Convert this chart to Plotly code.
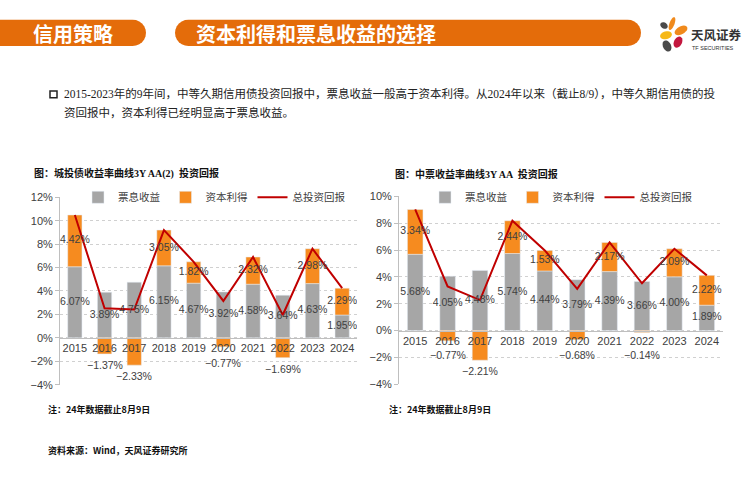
import math
import plotly.graph_objects as go

# ---------------- data ----------------
years = ["2015", "2016", "2017", "2018", "2019", "2020", "2021", "2022", "2023", "2024"]
left_coupon = [6.07, 3.89, 4.75, 6.15, 4.67, 3.92, 4.58, 3.64, 4.63, 1.95]
left_capital = [4.42, -1.37, -2.33, 3.05, 1.82, -0.77, 2.32, -1.69, 2.98, 2.29]
right_coupon = [5.68, 4.05, 4.48, 5.74, 4.44, 3.79, 4.39, 3.66, 4.00, 1.89]
right_capital = [3.34, -0.77, -2.21, 2.44, 1.53, -0.68, 2.17, -0.14, 2.09, 2.22]
left_yticks = [-4, -2, 0, 2, 4, 6, 8, 10, 12]
right_yticks = [-4, -2, 0, 2, 4, 6, 8, 10]
series_names = ["票息收益", "资本利得", "总投资回报"]

W, H = 751, 500
def px(x):
    return x / W
def py(y):
    return 1 - y / H

GRAY = "#A6A6A6"
ORANGE = "#F68B1F"
RED = "#C00000"
TXT = "#404040"
HDR = "#E46C0A"
NUMFONT = "Liberation Sans, Arial, sans-serif"
CJK = "Noto Sans CJK SC, sans-serif"

def fmt(v):
    s = f"{abs(v):.2f}%"
    return ("\u2212" + s) if v < 0 else s

def tick_text(v):
    return ("\u2212" if v < 0 else "") + f"{abs(v)}%"

fig = go.Figure()
ann = []

def add_panel(coupon, capital, xa, ya, legend, px_per_unit):
    total = [round(a + b, 2) for a, b in zip(coupon, capital)]
    fig.add_trace(go.Bar(x=years, y=coupon, name=series_names[0], marker_color=GRAY,
                         width=0.48, xaxis=xa, yaxis=ya, legend=legend, hoverinfo="skip"))
    fig.add_trace(go.Bar(x=years, y=capital, name=series_names[1], marker_color=ORANGE,
                         width=0.48, xaxis=xa, yaxis=ya, legend=legend, hoverinfo="skip"))
    fig.add_trace(go.Scatter(x=years, y=total, name=series_names[2], mode="lines",
                             line=dict(color=RED, width=2), xaxis=xa, yaxis=ya,
                             legend=legend, hoverinfo="skip"))
    lf = dict(size=10.5, color=TXT, family=NUMFONT)
    fig.add_trace(go.Scatter(x=years, y=[c / 2 for c in coupon], text=[fmt(c) for c in coupon],
                             mode="text", textposition="middle center", textfont=lf,
                             xaxis=xa, yaxis=ya, showlegend=False, hoverinfo="skip"))
    pos_x = [y for y, k in zip(years, capital) if k >= 0]
    pos_y = [c + k / 2 for c, k in zip(coupon, capital) if k >= 0]
    pos_t = [fmt(k) for k in capital if k >= 0]
    fig.add_trace(go.Scatter(x=pos_x, y=pos_y, text=pos_t, mode="text", textposition="middle center",
                             textfont=lf, xaxis=xa, yaxis=ya, showlegend=False, hoverinfo="skip"))
    # negative capital labels: below the bar end, never closer than ~25px to the zero line
    for i, k in enumerate(capital):
        if k < 0:
            bar_px = -k * px_per_unit
            shift = max(11, 25 - bar_px)
            ann.append(dict(x=i, y=k, xref=xa, yref=ya, text=fmt(k), showarrow=False,
                            yanchor="middle", xanchor="center", yshift=-shift, font=lf))

ldom_px = (388, 196)
rdom_px = (387.5, 195)
lrange = [left_yticks[0], left_yticks[-1]]
rrange = [right_yticks[0], right_yticks[-1]]
add_panel(left_coupon, left_capital, "x", "y", "legend",
          (ldom_px[0] - ldom_px[1]) / (lrange[1] - lrange[0]))
add_panel(right_coupon, right_capital, "x2", "y2", "legend2",
          (rdom_px[0] - rdom_px[1]) / (rrange[1] - rrange[0]))

def zero_pos(dom, rng):
    return dom[0] + (0 - rng[0]) / (rng[1] - rng[0]) * (dom[1] - dom[0])

ldom_y = [py(ldom_px[0]), py(ldom_px[1])]
rdom_y = [py(rdom_px[0]), py(rdom_px[1])]

xcommon = dict(type="category", range=[-0.5, 9.5], showline=True, linecolor="#BFBFBF",
               linewidth=1, ticks="", showgrid=False, anchor="free", tickangle=0,
               tickfont=dict(size=11, color=TXT, family=NUMFONT), fixedrange=True)
ycommon = dict(showline=True, linecolor="#BFBFBF", linewidth=1, ticks="outside", ticklen=4,
               tickcolor="#BFBFBF", showgrid=True, gridcolor="#D0D0D0",
               griddash="dot", zeroline=False, tickmode="array",
               tickfont=dict(size=11, color=TXT, family=NUMFONT), fixedrange=True)

fig.update_layout(
    width=W, height=H, margin=dict(l=0, r=0, t=0, b=0),
    paper_bgcolor="white", plot_bgcolor="white",
    barmode="relative", bargap=0.5,
    xaxis=dict(xcommon, domain=[px(60), px(357)], position=zero_pos(ldom_y, lrange)),
    yaxis=dict(ycommon, domain=ldom_y, range=lrange, tickvals=left_yticks,
               ticktext=[tick_text(v) for v in left_yticks], anchor="x"),
    xaxis2=dict(xcommon, domain=[px(399), px(723)], position=zero_pos(rdom_y, rrange)),
    yaxis2=dict(ycommon, domain=rdom_y, range=rrange, tickvals=right_yticks,
                ticktext=[tick_text(v) for v in right_yticks], anchor="x2"),
    legend=dict(orientation="h", x=px(78), y=py(196), xanchor="left", yanchor="middle",
                bgcolor="rgba(0,0,0,0)", font=dict(size=10.5, color=TXT, family=CJK),
                itemwidth=30, traceorder="normal"),
    legend2=dict(orientation="h", x=px(425), y=py(196), xanchor="left", yanchor="middle",
                 bgcolor="rgba(0,0,0,0)", font=dict(size=10.5, color=TXT, family=CJK),
                 itemwidth=30, traceorder="normal"),
    showlegend=True,
)

shapes = []

def path_from(points):
    return "M " + " L ".join(f"{px(x):.5f},{py(y):.5f}" for x, y in points) + " Z"

def pill(x0, x1, y0, y1, round_left=True, round_right=True):
    r = (y1 - y0) / 2
    cy = (y0 + y1) / 2
    pts = []
    if round_left:
        for i in range(0, 13):
            a = math.pi / 2 + math.pi * i / 12
            pts.append((x0 + r + r * math.cos(a), cy - r * math.sin(a)))
    else:
        pts = [(x0, y0), (x0, y1)]
    if round_right:
        for i in range(0, 13):
            a = -math.pi / 2 + math.pi * i / 12
            pts.append((x1 - r + r * math.cos(a), cy - r * math.sin(a)))
    else:
        pts += [(x1, y1), (x1, y0)]
    return path_from(pts)

shapes.append(dict(type="path", xref="paper", yref="paper", path=pill(-20, 146, 14, 41, False, True),
                   fillcolor=HDR, line=dict(width=0)))
shapes.append(dict(type="path", xref="paper", yref="paper", path=pill(175, 641, 14, 41),
                   fillcolor=HDR, line=dict(width=0)))

def ellipse(cx, cy, rx, ry, ang):
    t = math.radians(ang)
    pts = []
    for i in range(24):
        a = 2 * math.pi * i / 24
        x, y = rx * math.cos(a), ry * math.sin(a)
        pts.append((cx + x * math.cos(t) - y * math.sin(t), cy + x * math.sin(t) + y * math.cos(t)))
    return path_from(pts)

petals = [
    (664, 20, 4, 3, 35, "#4A4A4A"),
    (672, 18, 2.5, 7, 20, "#F08A1C"),
    (681, 25, 7, 4, -30, "#F08A1C"),
    (666, 30, 6, 4, -15, "#F6B817"),
    (678, 37, 4, 6, 25, "#C3173E"),
    (667, 41, 4, 6, -25, "#4A4A4A"),
]
for cx, cy, rx, ry, ang, col in petals:
    shapes.append(dict(type="path", xref="paper", yref="paper", path=ellipse(cx, cy, rx, ry, ang),
                       fillcolor=col, line=dict(width=0)))

# bullet square
shapes.append(dict(type="rect", xref="paper", yref="paper", x0=px(50), x1=px(57), y0=py(94), y1=py(87),
                   line=dict(color="#222222", width=1.5), fillcolor="white"))
fig.update_layout(shapes=shapes)

def text(x, y, s, size, color="#222222", family=CJK, xanchor="left"):
    ann.append(dict(x=px(x), y=py(y), xref="paper", yref="paper", text=s, showarrow=False,
                    xanchor=xanchor, yanchor="middle", font=dict(size=size, color=color, family=family)))

text(73, 28, "<b>信用策略</b>", 20, "white", xanchor="center")
text(194, 28, "<b>资本利得和票息收益的选择</b>", 20, "white")
text(689, 29, "<b>天风证券</b>", 12.5, "#333333")
text(690, 43, "TF SECURITIES", 5.5, "#333333", NUMFONT)

para_font = "Liberation Serif, Noto Sans CJK SC, serif"
text(62, 90, "2015-2023年的9年间，中等久期信用债投资回报中，票息收益一般高于资本利得。从2024年以来（截止8/9），中等久期信用债的投",
     11.5, "#222222", para_font)
text(62, 109, "资回报中，资本利得已经明显高于票息收益。", 11.5, "#222222", para_font)

text(32, 172, "<b>图：城投债收益率曲线3Y AA(2)  投资回报</b>", 10, "#111111", para_font)
text(393, 172, "<b>图：中票收益率曲线3Y AA  投资回报</b>", 10, "#111111", para_font)

text(46, 413, "<b>注：24年数据截止8月9日</b>", 9, "#111111", CJK)
text(387, 413, "<b>注：24年数据截止8月9日</b>", 9, "#111111", CJK)
text(46, 455, "<b>资料来源：Wind，天风证券研究所</b>", 9, "#111111", CJK)

fig.update_layout(annotations=ann)

fig.write_html("out.html", post_script="document.body.style.margin='0';",
               config={"displayModeBar": False})
